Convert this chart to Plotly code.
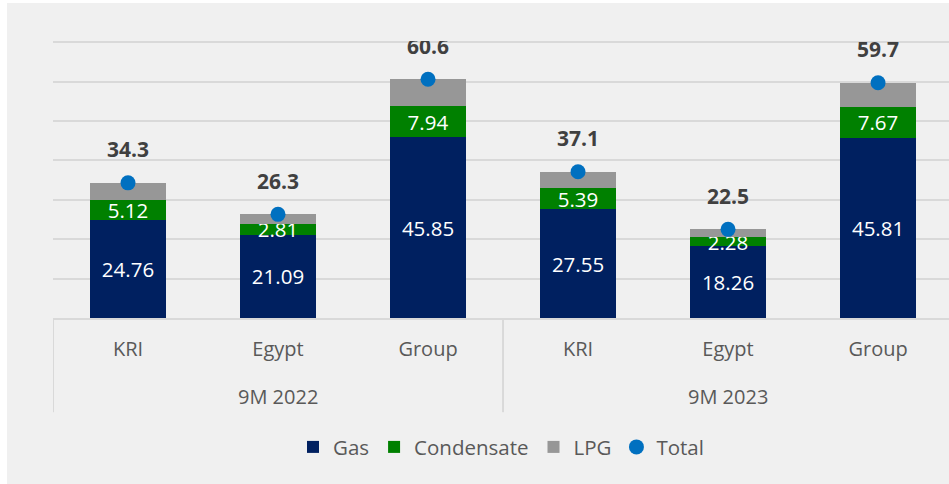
import plotly.graph_objects as go

periods = ["9M 2022", "9M 2022", "9M 2022", "9M 2023", "9M 2023", "9M 2023"]
regions = ["KRI", "Egypt", "Group", "KRI", "Egypt", "Group"]
gas = [24.76, 21.09, 45.85, 27.55, 18.26, 45.81]
condensate = [5.12, 2.81, 7.94, 5.39, 2.28, 7.67]
lpg = [4.42, 2.40, 6.81, 4.16, 1.96, 6.22]
total = [34.3, 26.3, 60.6, 37.1, 22.5, 59.7]

FONT = "Open Sans"
GRID = "#d9d9d9"
xs = list(range(len(regions)))

fig = go.Figure()
fig.add_trace(go.Bar(
    x=xs, y=gas, name="Gas", marker=dict(color="#002060", line=dict(width=0)),
    text=[f"{v:.2f}" for v in gas], textposition="inside", insidetextanchor="middle",
    textangle=0, constraintext="none",
    textfont=dict(color="white", size=20.5, family=FONT),
))
fig.add_trace(go.Bar(
    x=xs, y=condensate, name="Condensate", marker=dict(color="#008000", line=dict(width=0)),
    text=[f"{v:.2f}" for v in condensate], textposition="inside", insidetextanchor="middle",
    textangle=0, constraintext="none",
    textfont=dict(color="white", size=20.5, family=FONT),
))
fig.add_trace(go.Bar(
    x=xs, y=lpg, name="LPG", marker=dict(color="#979797", line=dict(width=0)),
))
fig.add_trace(go.Scatter(
    x=xs, y=total, name="Total", mode="markers",
    marker=dict(color="#0070c0", size=15),
))
fig.add_trace(go.Scatter(
    x=xs, y=total, mode="markers+text", showlegend=False, hoverinfo="skip",
    marker=dict(color="rgba(0,0,0,0)", size=31),
    text=[f"{v:.1f}" for v in total], textposition="top center",
    textfont=dict(color="#404040", size=21, family=FONT, weight="bold"),
))

# group labels and dividers (hierarchical category axis)
groups = []
for i, p in enumerate(periods):
    if not groups or groups[-1][0] != p:
        groups.append([p, i, i])
    else:
        groups[-1][2] = i

annotations = []
shapes = [
    dict(type="rect", xref="paper", yref="paper",
         x0=-53/896, x1=-46/896, y0=-166/277, y1=41/277 + 1,
         fillcolor="white", line=dict(width=0), layer="below"),
    dict(type="rect", xref="paper", yref="paper",
         x0=-53/896, x1=1.01, y0=1 + 38/277, y1=1 + 41/277,
         fillcolor="white", line=dict(width=0), layer="below"),
]
for name, i0, i1 in groups:
    annotations.append(dict(
        x=(i0 + i1) / 2, xref="x", y=-0.285, yref="paper", yanchor="middle",
        text=name, showarrow=False, font=dict(size=20, color="#595959", family=FONT),
    ))
    shapes.append(dict(type="line", xref="x", yref="paper", x0=i0 - 0.5, x1=i0 - 0.5,
                       y0=0, y1=-0.34, line=dict(color=GRID, width=2)))

fig.update_layout(
    width=949, height=484,
    barmode="stack", bargap=0.49,
    paper_bgcolor="#f0f0f0", plot_bgcolor="#f0f0f0",
    margin=dict(l=53, r=0, t=41, b=166),
    font=dict(family=FONT, color="#595959", size=20),
    legend=dict(orientation="h", x=0.5, xanchor="center", y=-0.466, yanchor="middle",
                traceorder="normal",
                font=dict(size=20.5, color="#595959"), bgcolor="rgba(0,0,0,0)"),
    shapes=shapes,
    annotations=annotations,
)
fig.update_xaxes(
    range=[-0.5, 5.473], tickvals=xs, ticktext=regions,
    showline=True, linecolor=GRID, linewidth=2, showgrid=False, zeroline=False,
    tickfont=dict(size=20, color="#595959", family=FONT),
    ticks="", ticklabelstandoff=12,
)
fig.update_yaxes(
    range=[0, 70.3], dtick=10, showticklabels=False,
    showgrid=True, gridcolor=GRID, gridwidth=2, zeroline=False,
)

fig.write_html("out.html", config={"displayModeBar": False},
               post_script="document.body.style.margin='0';")
